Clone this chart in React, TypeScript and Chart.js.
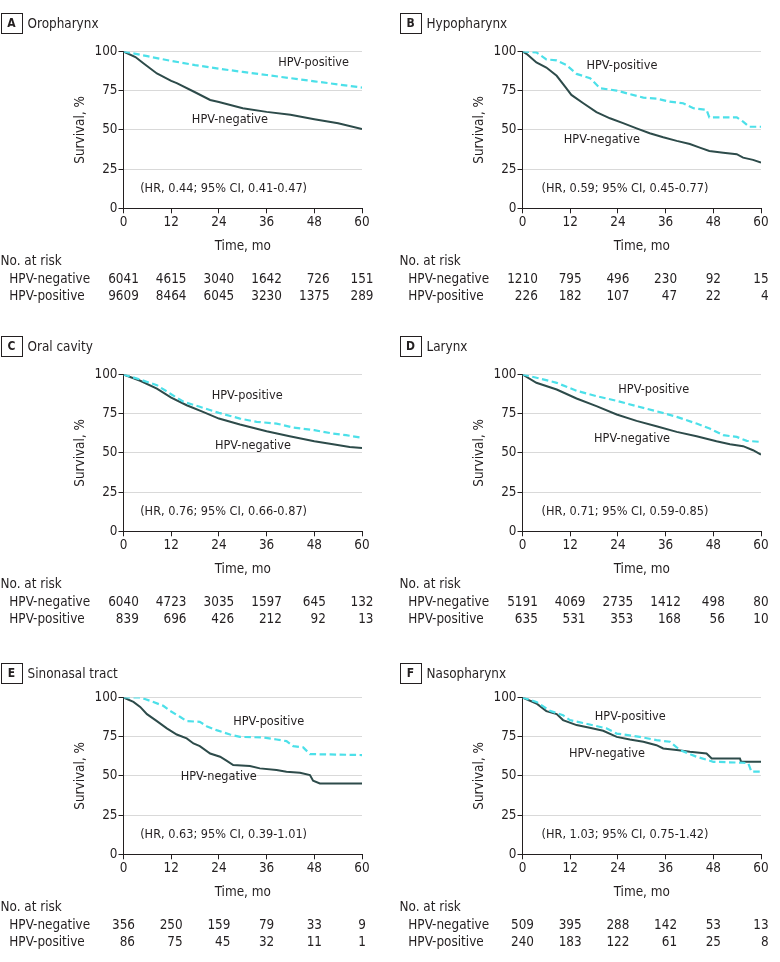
import React, { useEffect, useRef } from 'react';
import { Chart, registerables } from 'chart.js';

Chart.register(...registerables);

const FONT = "'DejaVu Sans Condensed', 'DejaVu Sans', sans-serif";
const FS = 13.4; // axis, table and title text
const FS_NOTE = 12.6; // in-plot annotations
const TEXT = '#231f20';
const NEG_COLOR = '#2d4b4a';
const POS_COLOR = '#4ce0e9';
const GRID = '#d9d9d9';

// ---- shared axis / table labels ----
const xTicks = [0, 12, 24, 36, 48, 60];
const yTicks = [0, 25, 50, 75, 100];
const groupLabels = ['HPV-negative', 'HPV-positive'];

// ---- A Oropharynx ----
const A_negT = [0, 3, 5, 8.4, 12, 13.4, 18, 21.8, 24, 30, 36, 42, 48, 54, 60];
const A_negS = [100, 96.5, 92.5, 86, 81.3, 79.8, 74, 69.1, 67.8, 63.8, 61.5, 59.6, 56.8, 54.3, 50.6];
const A_posT = [0, 6, 12, 18, 24, 30, 36, 42, 48, 54, 60];
const A_posS = [100, 97, 94, 91.3, 89, 87, 85, 83, 81, 79, 77];
const A_negRisk = [6041, 4615, 3040, 1642, 726, 151];
const A_posRisk = [9609, 8464, 6045, 3230, 1375, 289];

// ---- B Hypopharynx ----
const B_negT = [0, 1, 1.8, 3.5, 6, 8.6, 11, 12.3, 15.3, 18.6, 22, 25.3, 28.7, 32, 35.4, 38.8, 42.1, 44.6, 47, 50.5, 53.9, 55.5, 58, 60];
const B_negS = [100, 98.5, 96.8, 93, 89.8, 84.5, 76.6, 72.3, 67, 61.3, 57.4, 54.3, 51, 47.9, 45.3, 43, 41, 38.7, 36.6, 35.5, 34.5, 32.3, 30.9, 29.1];
const B_posT = [0, 3.5, 6, 8.6, 11, 13.6, 17, 19.5, 23.7, 27, 30.4, 33.7, 37, 40.4, 43, 46.3, 47, 53.9, 55.5, 57, 60];
const B_posS = [100, 99.4, 95, 94.3, 91.5, 85.7, 83, 76.6, 75.1, 72.8, 70.6, 70, 68, 67, 63.8, 62.8, 58, 58, 55.3, 52, 52];
const B_negRisk = [1210, 795, 496, 230, 92, 15];
const B_posRisk = [226, 182, 107, 47, 22, 4];

// ---- C Oral cavity ----
const C_negT = [0, 4.2, 8.4, 12, 15.9, 20, 24, 29.3, 36, 41.8, 48, 52.7, 56.9, 60];
const C_negS = [100, 96, 91, 85.3, 80.4, 76.2, 71.9, 68.1, 63.8, 60.6, 57.4, 55.5, 53.8, 53.2];
const C_posT = [0, 4.2, 8.4, 11.7, 15.1, 19.2, 24, 29.3, 33.5, 38.5, 42.7, 48, 52.7, 56, 60];
const C_posS = [100, 96.8, 93.2, 87.9, 82.6, 79.4, 75.5, 71.9, 69.8, 68.7, 66.2, 64.5, 62.3, 61.3, 59.6];
const C_negRisk = [6040, 4723, 3035, 1597, 645, 132];
const C_posRisk = [839, 696, 426, 212, 92, 13];

// ---- D Larynx ----
const D_negT = [0, 3.5, 8.6, 13.6, 18.6, 23.7, 28.7, 33.7, 38.8, 43.8, 48.8, 52.2, 55.5, 58, 60];
const D_negS = [100, 94.7, 90.4, 84.7, 79.8, 74.5, 70.4, 67, 63.4, 60.6, 57.4, 55.5, 54.3, 51.7, 48.9];
const D_posT = [0, 4.4, 8.6, 13.6, 18.6, 23.7, 28.7, 33.7, 38.8, 43.8, 47.1, 50.5, 53.9, 56.4, 60];
const D_posS = [100, 97.4, 94.7, 89.6, 86.2, 83.2, 79.8, 76.6, 73, 68.7, 65.5, 61.3, 60.2, 57.7, 57];
const D_negRisk = [5191, 4069, 2735, 1412, 498, 80];
const D_posRisk = [635, 531, 353, 168, 56, 10];

// ---- E Sinonasal tract ----
const E_negT = [0, 2.5, 4.2, 5.9, 8.4, 10.9, 13.4, 15.9, 17.6, 19.2, 21.8, 24.3, 25.9, 27.6, 31.8, 34.3, 38.5, 41, 44.4, 46.9, 47.7, 49.4, 60];
const E_negS = [100, 97.2, 94, 89.4, 84.9, 80.3, 76.4, 73.9, 70.7, 69, 64.3, 62.2, 59.7, 56.9, 56.3, 54.8, 53.7, 52.7, 52, 50.5, 46.9, 45.2, 45.2];
const E_posT = [0, 4.2, 6.7, 10, 11.7, 14.2, 15.9, 19.2, 20.9, 23.4, 26.8, 29.3, 35.1, 38.5, 41, 42.7, 45.2, 46.9, 60];
const E_posS = [100, 100, 97.9, 94.7, 91.5, 87.7, 84.9, 84.5, 81.7, 79.2, 76.4, 74.9, 74.5, 73.2, 72.2, 69, 68.2, 63.9, 63.3];
const E_negRisk = [356, 250, 159, 79, 33, 9];
const E_posRisk = [86, 75, 45, 32, 11, 1];

// ---- F Nasopharynx ----
const F_negT = [0, 3.5, 6, 8.6, 10.2, 13.6, 16.9, 20.3, 23.7, 27, 30.4, 33.7, 35.4, 38.8, 42.1, 46.3, 47.6, 54.7, 55, 60];
const F_negS = [100, 96.2, 91.3, 89.4, 85.6, 82.4, 80.7, 78.8, 74.9, 73.2, 71.8, 69.6, 67.5, 66.5, 65.4, 64.3, 61.1, 61.1, 59, 59];
const F_posT = [0, 3.5, 6.9, 10.2, 11.9, 16.9, 21.1, 23.7, 29.5, 33.7, 37.1, 39.6, 43.8, 48, 55.5, 56.8, 57.6, 60];
const F_posS = [100, 97.2, 91.5, 88.7, 85.6, 82.8, 80.3, 77, 74.9, 72.8, 71.8, 66.5, 62.2, 59, 58.4, 58, 52.7, 52.7];
const F_negRisk = [509, 395, 288, 142, 53, 13];
const F_posRisk = [240, 183, 122, 61, 25, 8];

type Label = { text: string; t: number; v: number };
type PanelCfg = {
  letter: string;
  title: string;
  negT: number[]; negS: number[];
  posT: number[]; posS: number[];
  negRisk: number[]; posRisk: number[];
  labels: Label[];
};

const hrText = (hr: string, lo: string, hi: string) => `(HR, ${hr}; 95% CI, ${lo}-${hi})`;

const PANELS: PanelCfg[] = [
  { letter: 'A', title: 'Oropharynx', negT: A_negT, negS: A_negS, posT: A_posT, posS: A_posS, negRisk: A_negRisk, posRisk: A_posRisk,
    labels: [ { text: 'HPV-positive', t: 38.9, v: 92.9 }, { text: 'HPV-negative', t: 17.2, v: 56.8 }, { text: hrText('0.44', '0.41', '0.47'), t: 4.2, v: 12.3 } ] },
  { letter: 'B', title: 'Hypopharynx', negT: B_negT, negS: B_negS, posT: B_posT, posS: B_posS, negRisk: B_negRisk, posRisk: B_posRisk,
    labels: [ { text: 'HPV-positive', t: 16.1, v: 90.9 }, { text: 'HPV-negative', t: 10.4, v: 44 }, { text: hrText('0.59', '0.45', '0.77'), t: 4.8, v: 12.3 } ] },
  { letter: 'C', title: 'Oral cavity', negT: C_negT, negS: C_negS, posT: C_posT, posS: C_posS, negRisk: C_negRisk, posRisk: C_posRisk,
    labels: [ { text: 'HPV-positive', t: 22.2, v: 86.2 }, { text: 'HPV-negative', t: 23.0, v: 54.5 }, { text: hrText('0.76', '0.66', '0.87'), t: 4.2, v: 12.3 } ] },
  { letter: 'D', title: 'Larynx', negT: D_negT, negS: D_negS, posT: D_posT, posS: D_posS, negRisk: D_negRisk, posRisk: D_posRisk,
    labels: [ { text: 'HPV-positive', t: 24.1, v: 90 }, { text: 'HPV-negative', t: 18, v: 59.1 }, { text: hrText('0.71', '0.59', '0.85'), t: 4.8, v: 12.3 } ] },
  { letter: 'E', title: 'Sinonasal tract', negT: E_negT, negS: E_negS, posT: E_posT, posS: E_posS, negRisk: E_negRisk, posRisk: E_posRisk,
    labels: [ { text: 'HPV-positive', t: 27.6, v: 84.5 }, { text: 'HPV-negative', t: 14.4, v: 49.5 }, { text: hrText('0.63', '0.39', '1.01'), t: 4.2, v: 12.7 } ] },
  { letter: 'F', title: 'Nasopharynx', negT: F_negT, negS: F_negS, posT: F_posT, posS: F_posS, negRisk: F_negRisk, posRisk: F_posRisk,
    labels: [ { text: 'HPV-positive', t: 18.2, v: 87.7 }, { text: 'HPV-negative', t: 11.7, v: 63.9 }, { text: hrText('1.03', '0.75', '1.42'), t: 4.8, v: 12.7 } ] },
];

const CANVAS_W = 381;
const CANVAS_H = 323;
const TITLE_TOP = [13, 13, 17];

const overlayPlugin = {
  id: 'overlay',
  afterDraw(chart: any, _args: any, opts: any) {
    const { ctx, scales, chartArea } = chart;
    const x = scales.x;
    const y = scales.y;
    ctx.save();
    ctx.fillStyle = TEXT;
    ctx.textBaseline = 'middle';
    ctx.textAlign = 'left';
    ctx.font = `${FS_NOTE}px ${FONT}`;
    (opts.labels as Label[]).forEach((l) => {
      ctx.fillText(l.text, x.getPixelForValue(l.t), y.getPixelForValue(l.v));
    });
    // number at risk table
    const b = chartArea.bottom;
    const rowTitleY = b + 53.7;
    const rowNegY = b + 71.4;
    const rowPosY = b + 88.7;
    ctx.font = `${FS}px ${FONT}`;
    ctx.fillText('No. at risk', 0.5, rowTitleY);
    ctx.fillText(groupLabels[0], 9.3, rowNegY);
    ctx.fillText(groupLabels[1], 9.3, rowPosY);
    ctx.textAlign = 'right';
    const neg: number[] = opts.negRisk;
    const pos: number[] = opts.posRisk;
    xTicks.forEach((t, i) => {
      const px = x.getPixelForValue(t);
      const a = String(neg[i]);
      const c = String(pos[i]);
      const w = Math.max(ctx.measureText(a).width, ctx.measureText(c).width);
      ctx.fillText(a, px + w / 2, rowNegY);
      ctx.fillText(c, px + w / 2, rowPosY);
    });
    ctx.restore();
  },
};

function Panel({ cfg, left, top, titleTop }: { cfg: PanelCfg; left: number; top: number; titleTop: number }) {
  const ref = useRef<HTMLCanvasElement>(null);
  useEffect(() => {
    const canvas = ref.current;
    if (!canvas) return;
    const toPts = (ts: number[], ss: number[]) => ts.map((t, i) => ({ x: t, y: ss[i] }));
    const chart = new Chart(canvas, {
      type: 'line',
      data: {
        datasets: [
          {
            label: groupLabels[1],
            data: toPts(cfg.posT, cfg.posS),
            borderColor: POS_COLOR,
            borderWidth: 2.2,
            borderDash: [6.5, 3.5],
            pointRadius: 0,
            tension: 0,
            fill: false,
          },
          {
            label: groupLabels[0],
            data: toPts(cfg.negT, cfg.negS),
            borderColor: NEG_COLOR,
            borderWidth: 2,
            pointRadius: 0,
            tension: 0,
            fill: false,
          },
        ],
      },
      options: {
        animation: false,
        responsive: false,
        devicePixelRatio: window.devicePixelRatio || 1,
        layout: { padding: { left: 72.4, right: 19, top: 51.5, bottom: 68.4 } },
        plugins: {
          legend: { display: false },
          tooltip: { enabled: false },
          overlay: { labels: cfg.labels, negRisk: cfg.negRisk, posRisk: cfg.posRisk },
        } as any,
        scales: {
          x: {
            type: 'linear',
            min: 0,
            max: 60,
            afterBuildTicks: (s: any) => { s.ticks = xTicks.map((v) => ({ value: v })); },
            afterFit: (s: any) => { s.height = 46.3; },
            ticks: { color: TEXT, padding: 1.5, font: { family: FONT, size: FS }, maxRotation: 0, autoSkip: false },
            grid: { display: true, drawOnChartArea: false, drawTicks: true, tickLength: 5, tickColor: TEXT, tickWidth: 1 },
            border: { display: true, color: TEXT, width: 1 },
            title: { display: true, text: 'Time, mo', color: TEXT, padding: 0, font: { family: FONT, size: FS } },
          },
          y: {
            type: 'linear',
            min: 0,
            max: 100,
            afterBuildTicks: (s: any) => { s.ticks = yTicks.map((v) => ({ value: v })); },
            afterFit: (s: any) => { s.width = 51.1; },
            ticks: { color: TEXT, padding: 1, font: { family: FONT, size: FS } },
            grid: { display: true, color: GRID, lineWidth: 1, drawTicks: true, tickLength: 5, tickColor: TEXT, tickWidth: 1 },
            border: { display: true, color: TEXT, width: 1 },
            title: { display: true, text: 'Survival, %', color: TEXT, padding: 0, font: { family: FONT, size: FS } },
          },
        },
      } as any,
      plugins: [overlayPlugin],
    });
    return () => chart.destroy();
  }, [cfg]);

  return (
    <div style={{ position: 'absolute', left, top, width: CANVAS_W, height: CANVAS_H }}>
      <canvas ref={ref} width={CANVAS_W} height={CANVAS_H} style={{ position: 'absolute', left: 0, top: 0, width: CANVAS_W, height: CANVAS_H }} />
      <div
        style={{
          position: 'absolute', left: 0.5, top: titleTop, width: 20, height: 19,
          border: `1px solid ${TEXT}`, color: TEXT,
          fontFamily: FONT, fontWeight: 'bold', fontSize: 12, lineHeight: '19px', textAlign: 'center',
        }}
      >
        {cfg.letter}
      </div>
      <div
        style={{
          position: 'absolute', left: 27.5, top: titleTop, height: 21, lineHeight: '21px',
          fontFamily: FONT, fontSize: FS, color: TEXT, whiteSpace: 'nowrap',
        }}
      >
        {cfg.title}
      </div>
    </div>
  );
}

export default function App() {
  return (
    <div style={{ position: 'absolute', left: 0, top: 0, width: 780, height: 962, background: '#fff', overflow: 'hidden' }}>
      {PANELS.map((p, i) => {
        const row = Math.floor(i / 2);
        return (
          <Panel key={p.letter} cfg={p} left={(i % 2) * 399} top={row * 323} titleTop={TITLE_TOP[row]} />
        );
      })}
    </div>
  );
}
